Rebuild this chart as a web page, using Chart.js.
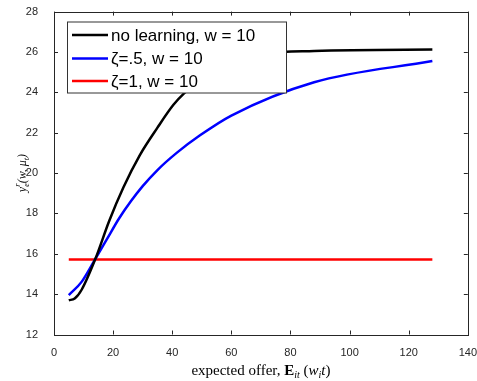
<!DOCTYPE html>
<html>
<head>
<meta charset="utf-8">
<script src="https://cdn.jsdelivr.net/npm/chart.js@4.4.1/dist/chart.umd.min.js"></script>
<style>
  html, body { margin: 0; padding: 0; background: #fff; }
  #wrap { width: 477px; height: 381px; position: relative; overflow: hidden; }
  #inner { position: absolute; left: 0; top: -3.5px; width: 481px; height: 386px; }
</style>
</head>
<body>
<div id="wrap"><div id="inner"><canvas id="chart"></canvas></div></div>
<script>
// ---- data ----
const labels = ['no learning, w = 10', 'ζ=.5, w = 10', 'ζ=1, w = 10'];
const colors = ['#000000', '#0000ff', '#ff0000'];

const xNoLearn = [5, 7, 9.4, 14, 18.7, 23.5, 29, 35, 40.4, 44, 50, 60, 88, 128];
const yNoLearn = [13.7, 13.78, 14.23, 15.75, 17.64, 19.3, 20.88, 22.25, 23.38, 23.95, 24.65, 25.55, 26.05, 26.12];

const xHalf = [5, 9.4, 14, 18, 22, 26, 30, 35, 41.5, 49.4, 60, 88, 128];
const yHalf = [13.95, 14.62, 15.75, 16.75, 17.75, 18.6, 19.35, 20.15, 21.0, 21.87, 22.85, 24.5, 25.55];

const xFull = [5, 128];
const yFull = [15.72, 15.72];

const xTicks = [0, 20, 40, 60, 80, 100, 120, 140];
const yTicks = [12, 14, 16, 18, 20, 22, 24, 26, 28];

const toPts = (xs, ys) => xs.map((x, i) => ({ x: x, y: ys[i] }));
const series = [toPts(xNoLearn, yNoLearn), toPts(xHalf, yHalf), toPts(xFull, yFull)];

const axisColor = '#262626';
const shift = 3.5; // canvas is moved up by this much

// box, inward ticks, legend and axis titles (MATLAB look)
const matlabPlugin = {
    id: 'matlabLook',
    afterDraw(chart) {
        const { ctx, chartArea: a, scales } = chart;
        ctx.save();
        ctx.strokeStyle = axisColor;
        ctx.lineWidth = 1;
        ctx.strokeRect(Math.round(a.left) + 0.5, Math.round(a.top) + 0.5,
            Math.round(a.right - a.left), Math.round(a.bottom - a.top));

        // inward ticks
        const tl = 4;
        ctx.beginPath();
        xTicks.forEach(v => {
            const px = Math.round(scales.x.getPixelForValue(v)) + 0.5;
            ctx.moveTo(px, a.bottom); ctx.lineTo(px, a.bottom - tl);
            ctx.moveTo(px, a.top); ctx.lineTo(px, a.top + tl);
        });
        yTicks.forEach(v => {
            const py = Math.round(scales.y.getPixelForValue(v)) + 0.5;
            ctx.moveTo(a.left, py); ctx.lineTo(a.left + tl, py);
            ctx.moveTo(a.right, py); ctx.lineTo(a.right - tl, py);
        });
        ctx.stroke();

        // legend box
        const lx = 67.5, ly = 21.5 + shift, lw = 219, lh = 71;
        ctx.fillStyle = '#fff';
        ctx.fillRect(lx, ly, lw, lh);
        ctx.strokeStyle = '#333';
        ctx.strokeRect(lx, ly, lw, lh);
        const rows = [34.5, 58, 80.5];
        ctx.font = '17px "Liberation Sans", Arial, sans-serif';
        ctx.textBaseline = 'middle';
        chart.data.datasets.forEach((ds, i) => {
            ctx.strokeStyle = ds.borderColor;
            ctx.lineWidth = 2.5;
            ctx.beginPath();
            ctx.moveTo(72, rows[i] + shift); ctx.lineTo(108, rows[i] + shift);
            ctx.stroke();
            ctx.fillStyle = '#000';
            ctx.fillText(ds.label, 111, rows[i] + 1 + shift);
        });

        // x axis title with mixed fonts
        const serif = '"Liberation Serif", "DejaVu Serif", serif';
        const parts = [
            ['expected offer, ', '15px ' + serif, 0],
            ['E', 'bold 15px ' + serif, 0],
            ['it', 'italic 10px ' + serif, 3],
            [' (', '15px ' + serif, 0],
            ['w', 'italic 15px ' + serif, 0],
            ['i', 'italic 10px ' + serif, 3],
            ['t', 'italic 15px ' + serif, 0],
            [')', '15px ' + serif, 0]
        ];
        ctx.fillStyle = '#000';
        ctx.textBaseline = 'alphabetic';
        let total = 0;
        parts.forEach(p => { ctx.font = p[1]; total += ctx.measureText(p[0]).width; });
        let cx = (a.left + a.right) / 2 - total / 2;
        parts.forEach(p => {
            ctx.font = p[1];
            ctx.fillText(p[0], cx, 374 + shift + p[2]);
            cx += ctx.measureText(p[0]).width;
        });

        // y axis title, rotated
        ctx.translate(26, (a.top + a.bottom) / 2);
        ctx.rotate(-Math.PI / 2);
        const yparts = [
            ['y', 'italic 12px ' + serif, 0],
            ['e', 'italic 8px ' + serif, 3],
            ['r', 'italic 8px ' + serif, -6],
            ['(w, μ', 'italic 12px ' + serif, 0],
            ['t', 'italic 8px ' + serif, 3],
            [')', 'italic 12px ' + serif, 0]
        ];
        let yt = 0;
        yparts.forEach((p, i) => { ctx.font = p[1]; if (i !== 2) yt += ctx.measureText(p[0]).width; });
        let yx = -yt / 2;
        yparts.forEach((p, i) => {
            ctx.font = p[1];
            ctx.fillText(p[0], i === 2 ? yx - ctx.measureText('e').width : yx, p[2]);
            if (i !== 2) yx += ctx.measureText(p[0]).width;
        });
        ctx.restore();
    }
};

const ctx = document.getElementById('chart');
new Chart(ctx, {
    type: 'line',
    data: {
        datasets: series.map((pts, i) => ({
            label: labels[i],
            data: pts,
            borderColor: colors[i],
            backgroundColor: colors[i],
            borderWidth: 2.5,
            pointRadius: 0,
            cubicInterpolationMode: 'monotone',
            fill: false
        }))
    },
    options: {
        responsive: true,
        maintainAspectRatio: false,
        animation: false,
        layout: { padding: { top: 7, right: 5, left: 0, bottom: 0 } },
        plugins: { legend: { display: false }, tooltip: { enabled: false } },
        scales: {
            x: {
                type: 'linear',
                min: 0, max: 140,
                afterBuildTicks: s => { s.ticks = xTicks.map(v => ({ value: v })); },
                afterFit: s => { s.height = 48.5; },
                grid: { display: false },
                border: { display: false },
                ticks: { color: axisColor, font: { family: '"Liberation Sans", Arial', size: 11 }, padding: 4, maxRotation: 0 }
            },
            y: {
                min: 12, max: 28,
                afterBuildTicks: s => { s.ticks = yTicks.map(v => ({ value: v })); },
                afterFit: s => { s.width = 54; },
                grid: { display: false },
                border: { display: false },
                ticks: { color: axisColor, font: { family: '"Liberation Sans", Arial', size: 11 }, padding: 8 }
            }
        }
    },
    plugins: [matlabPlugin]
});
</script>
</body>
</html>
